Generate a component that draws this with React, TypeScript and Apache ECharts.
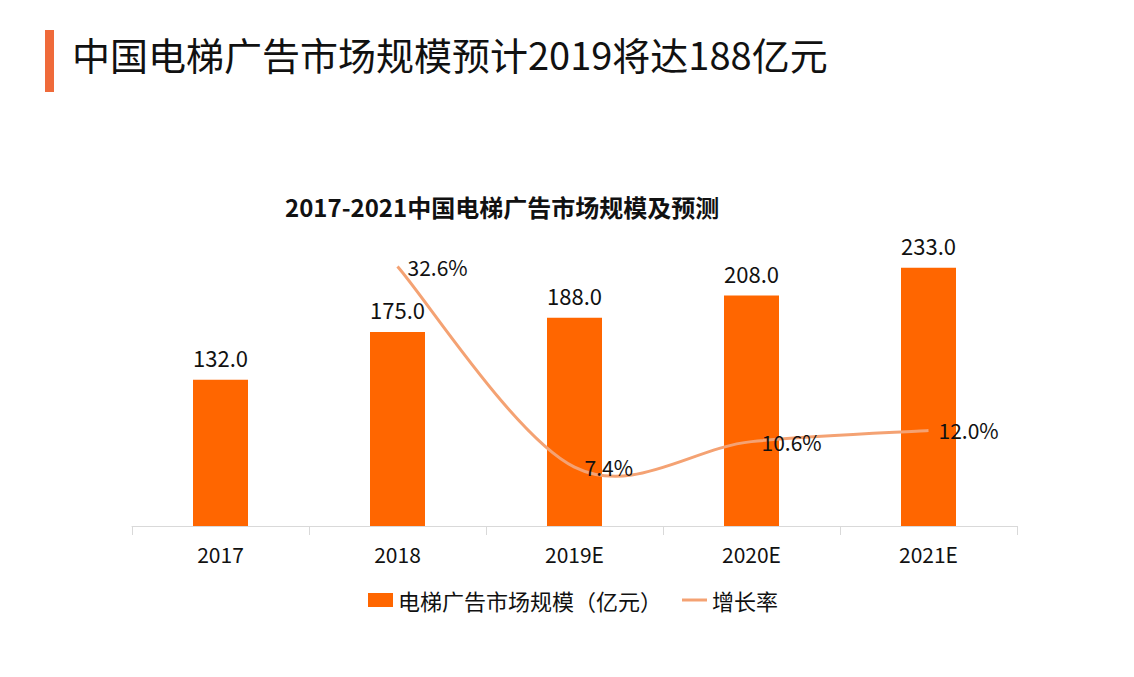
import React, { useEffect, useRef } from "react";
import * as echarts from "echarts";

const categories = ["2017", "2018", "2019E", "2020E", "2021E"];
const marketSize = [132.0, 175.0, 188.0, 208.0, 233.0];
const growthRate: (number | null)[] = [null, 32.6, 7.4, 10.6, 12.0];
const barName = "电梯广告市场规模（亿元）";
const lineName = "增长率";
const mainTitle = "中国电梯广告市场规模预计2019将达188亿元";
const subTitle = "2017-2021中国电梯广告市场规模及预测";

const FONT = "'Noto Sans CJK SC', 'Noto Sans', sans-serif";
const LINE_COLOR = "#F4A273";

const linePoints: [number, number][] = growthRate
  .map((v, i) => [i, v] as [number, number | null])
  .filter((p) => p[1] !== null) as [number, number][];

export default function App() {
  const ref = useRef<HTMLDivElement>(null);
  useEffect(() => {
    document.body.style.margin = "0";
    const chart = echarts.init(ref.current!, null, { renderer: "svg" });
    chart.setOption({
      animation: false,
      backgroundColor: "#ffffff",
      textStyle: { fontFamily: FONT },
      graphic: [
        { type: "rect", left: 45, top: 30, shape: { width: 9, height: 62 }, style: { fill: "#EF6A3A" } },
        {
          type: "text",
          left: 72,
          top: 34,
          style: { text: mainTitle, font: `38px ${FONT}`, fill: "#111111" },
        },
        {
          type: "text",
          left: 285,
          top: 194,
          style: { text: subTitle, font: `bold 24px ${FONT}`, fill: "#111111" },
        },
      ],
      legend: {
        left: 363,
        top: 584,
        itemWidth: 25,
        itemHeight: 14,
        itemGap: 20,
        textStyle: { fontSize: 22, color: "#111111", fontFamily: FONT },
        data: [
          { name: barName, icon: "rect" },
          { name: lineName, icon: "path://M0,0 H25 V3 H0 Z", itemStyle: { color: LINE_COLOR } },
        ],
      },
      grid: { left: 132, right: 117, top: 249, bottom: 151, containLabel: false },
      xAxis: {
        type: "category",
        data: categories,
        boundaryGap: true,
        axisLine: { lineStyle: { color: "#D9D9D9", width: 1 } },
        axisTick: { show: true, length: 9, lineStyle: { color: "#D9D9D9" } },
        axisLabel: { fontSize: 21, color: "#111111", margin: 17, fontFamily: FONT },
      },
      yAxis: [
        { type: "value", min: 0, max: 250, show: false, splitLine: { show: false } },
        { type: "value", min: 0, max: 34.8, show: false, splitLine: { show: false } },
      ],
      series: [
        {
          name: barName,
          type: "bar",
          z: 2,
          data: marketSize,
          barWidth: 55,
          itemStyle: { color: "#FF6600" },
          label: {
            show: true,
            position: "top",
            distance: 12,
            fontSize: 22,
            color: "#111111",
            fontFamily: FONT,
            formatter: (p: any) => Number(p.value).toFixed(1),
          },
        },
        {
          name: "curve",
          type: "custom",
          yAxisIndex: 1,
          z: 5,
          silent: true,
          data: linePoints,
          encode: { x: 0, y: 1 },
          renderItem: (params: any, api: any) => {
            if (params.dataIndex !== 0) return null;
            const pts = linePoints.map((p) => api.coord(p));
            const n = pts.length;
            let d = `M${pts[0][0]},${pts[0][1]}`;
            for (let i = 0; i < n - 1; i++) {
              const p0 = pts[Math.max(i - 1, 0)];
              const p1 = pts[i];
              const p2 = pts[i + 1];
              const p3 = pts[Math.min(i + 2, n - 1)];
              const c1x = p1[0] + (p2[0] - p0[0]) / 6;
              const c1y = p1[1] + (p2[1] - p0[1]) / 6;
              const c2x = p2[0] - (p3[0] - p1[0]) / 6;
              const c2y = p2[1] - (p3[1] - p1[1]) / 6;
              d += ` C${c1x},${c1y} ${c2x},${c2y} ${p2[0]},${p2[1]}`;
            }
            return {
              type: "path",
              z2: 10,
              shape: { pathData: d },
              style: { fill: "none", stroke: LINE_COLOR, lineWidth: 3 },
            };
          },
        },
        {
          name: lineName,
          type: "line",
          yAxisIndex: 1,
          z: 6,
          data: growthRate,
          symbol: "circle",
          symbolSize: 0.1,
          showSymbol: true,
          itemStyle: { color: LINE_COLOR },
          lineStyle: { color: LINE_COLOR, width: 3, opacity: 0 },
          label: {
            show: true,
            position: "right",
            distance: 10,
            fontSize: 21,
            color: "#111111",
            fontFamily: FONT,
            formatter: (p: any) => `${Number(p.value).toFixed(1)}%`,
          },
        },
      ],
    });
    return () => chart.dispose();
  }, []);
  return <div ref={ref} style={{ width: 1134, height: 677 }} />;
}
